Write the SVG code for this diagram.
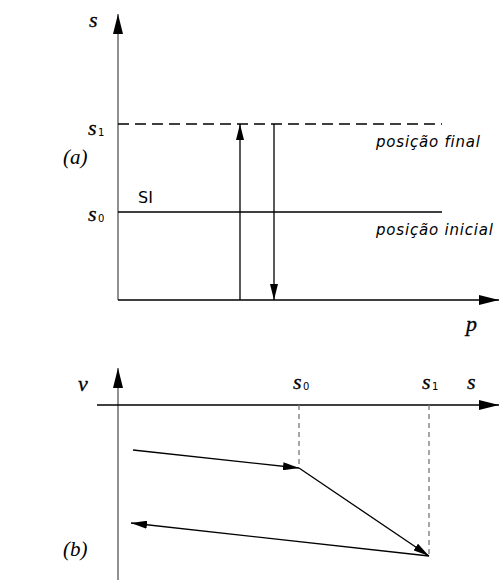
<svg xmlns="http://www.w3.org/2000/svg" width="499" height="582" viewBox="0 0 499 582">
<style>
.ax{stroke:#555;stroke-width:1.3;fill:none}
.ln{stroke:#000;stroke-width:1.3;fill:none}
.dash{stroke:#000;stroke-width:1.6;stroke-dasharray:11,6;fill:none}
.gd{stroke:#777;stroke-width:1.3;stroke-dasharray:5,4;fill:none}
.m{font-family:"Liberation Serif",serif;font-style:italic;font-size:22px;fill:#000;stroke:#000;stroke-width:0.3}
.sub{font-family:"DejaVu Sans",sans-serif;font-size:10px;fill:#000}
.lab{font-family:"Liberation Serif",serif;font-style:italic;font-size:21px;fill:#000}
.cap{font-family:"DejaVu Sans",sans-serif;font-style:italic;font-size:15px;letter-spacing:0.8px;fill:#000}
.si{font-family:"DejaVu Sans",sans-serif;font-size:16px;fill:#000}
</style>
<defs>
<marker id="ah" viewBox="0 0 20 10" refX="20" refY="5" markerWidth="20" markerHeight="10" markerUnits="userSpaceOnUse" orient="auto"><path d="M0,0 L20,5 L0,10 z" fill="#000"/></marker>
<marker id="sh" viewBox="0 0 16 8" refX="16" refY="4" markerWidth="16" markerHeight="8" markerUnits="userSpaceOnUse" orient="auto"><path d="M0,0 L16,4 L0,8 z" fill="#000"/></marker>
</defs>
<g id="plot-a">
<line class="ax" x1="118" y1="300" x2="118" y2="14" marker-end="url(#ah)"/>
<line class="ln" x1="118" y1="300" x2="499" y2="300" marker-end="url(#ah)"/>
<line class="dash" x1="118" y1="124" x2="442" y2="124"/>
<line class="ln" x1="118" y1="212" x2="442" y2="212"/>
<text class="m" x="89" y="27">s</text>
<text class="m" x="88" y="135">s</text><text class="sub" x="98" y="136">1</text>
<text class="m" x="88" y="221">s</text><text class="sub" x="98" y="222">0</text>
<text class="lab" x="63" y="164">(a)</text>
<text class="si" x="138" y="203">SI</text>
<text class="cap" x="376" y="147">posição final</text>
<text class="cap" x="376" y="235">posição inicial</text>
<text class="m" x="466" y="331">p</text>
</g>
<g id="connectors-a">
<line class="ln" x1="240" y1="300" x2="240" y2="124" marker-end="url(#sh)"/>
<line class="ln" x1="274" y1="124" x2="274" y2="300" marker-end="url(#sh)"/>
</g>
<g id="plot-b">
<line class="ax" x1="118" y1="580" x2="118" y2="368" marker-end="url(#ah)"/>
<line class="ln" x1="97" y1="405" x2="499" y2="405" marker-end="url(#ah)"/>
<line class="gd" x1="299" y1="405" x2="299" y2="468"/>
<line class="gd" x1="429" y1="405" x2="429" y2="556"/>
<text class="m" x="78" y="391">v</text>
<text class="m" x="293" y="389">s</text><text class="sub" x="303" y="390">0</text>
<text class="m" x="422" y="389">s</text><text class="sub" x="432" y="390">1</text>
<text class="m" x="467" y="389">s</text>
<text class="lab" x="63" y="556">(b)</text>
</g>
<g id="connectors-b">
<line class="ln" x1="133" y1="450" x2="299" y2="468" marker-end="url(#sh)"/>
<line class="ln" x1="299" y1="468" x2="429" y2="556" marker-end="url(#sh)"/>
<line class="ln" x1="429" y1="556" x2="131" y2="523" marker-end="url(#sh)"/>
</g>
</svg>
